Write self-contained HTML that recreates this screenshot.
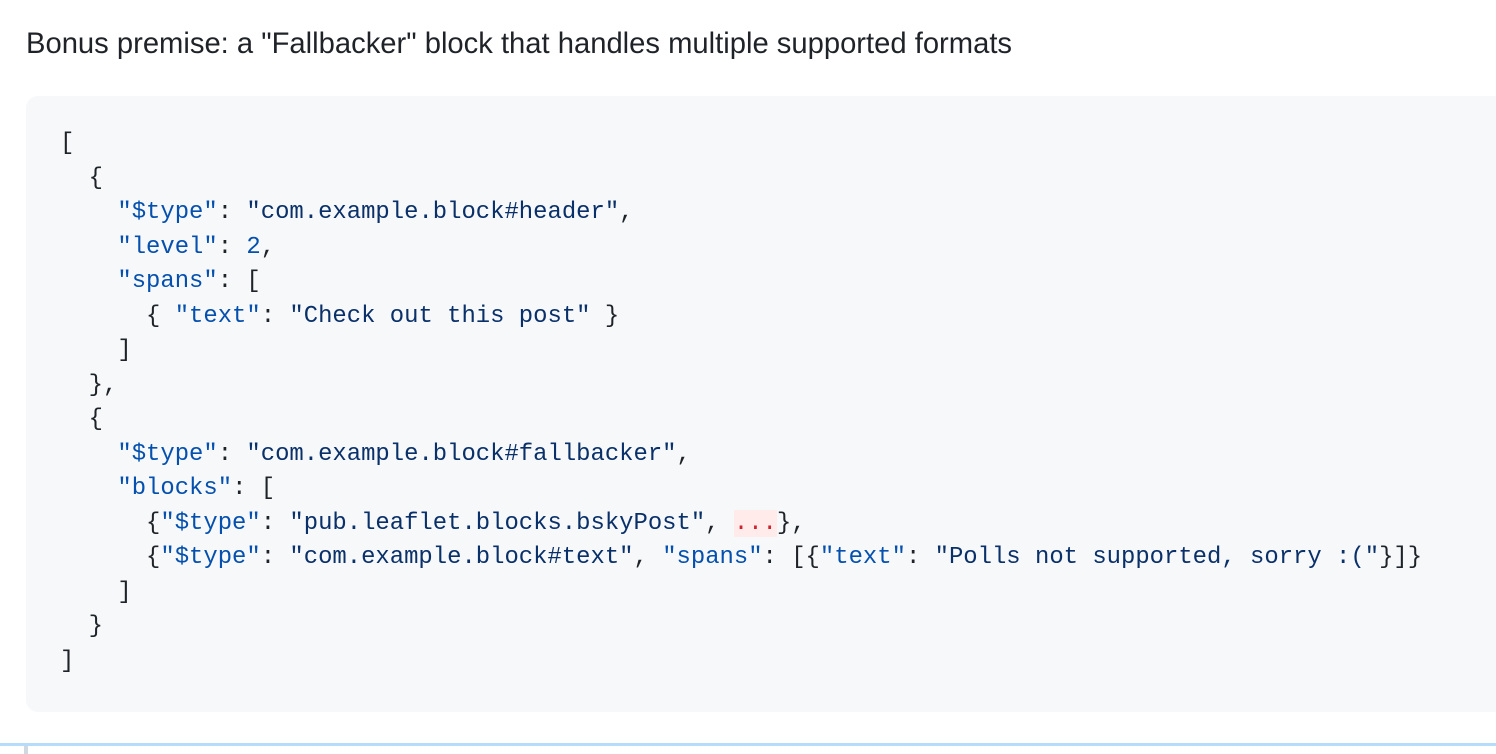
<!DOCTYPE html>
<html><head><meta charset="utf-8"><style>
body{margin:0;width:1496px;height:754px;background:#fff;position:relative;overflow:hidden;font-family:"Liberation Sans",sans-serif;color:#1f2328}
.p{position:absolute;left:26px;top:24px;font-size:29.2px;line-height:40px;white-space:nowrap}
.blk{position:absolute;left:26px;top:96px;width:1490px;height:616px;background:#f6f8fa;border-radius:12px}
pre{margin:0;position:absolute;left:60px;top:127px;font-family:"Liberation Mono",monospace;font-size:23.9px;line-height:34.53px;color:#1f2328}
.k{color:#0550ae}.s{color:#0a3069}.e{color:#cf222e;background:#ffebe9}
.hl{position:absolute;left:0;top:743px;width:1496px;height:3px;background:#b6dcfb}
.vb{position:absolute;left:24px;top:746px;width:4px;height:8px;background:#d1d9e0}
</style></head><body>
<div class="p">Bonus premise: a "Fallbacker" block that handles multiple supported formats</div>
<div class="blk"></div>
<pre>[
  {
    <span class="k">"$type"</span>: <span class="s">"com.example.block#header"</span>,
    <span class="k">"level"</span>: <span class="k">2</span>,
    <span class="k">"spans"</span>: [
      { <span class="k">"text"</span>: <span class="s">"Check out this post"</span> }
    ]
  },
  {
    <span class="k">"$type"</span>: <span class="s">"com.example.block#fallbacker"</span>,
    <span class="k">"blocks"</span>: [
      {<span class="k">"$type"</span>: <span class="s">"pub.leaflet.blocks.bskyPost"</span>, <span class="e">...</span>},
      {<span class="k">"$type"</span>: <span class="s">"com.example.block#text"</span>, <span class="k">"spans"</span>: [{<span class="k">"text"</span>: <span class="s">"Polls not supported, sorry :("</span>}]}
    ]
  }
]</pre>
<div class="hl"></div><div class="vb"></div>
</body></html>
